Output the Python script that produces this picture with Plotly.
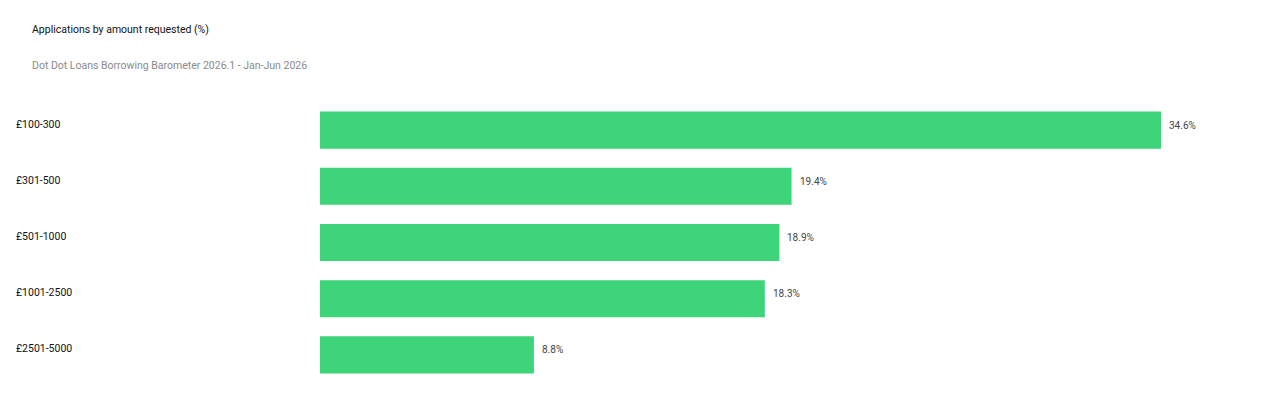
import plotly.graph_objects as go

##========[ DATA ]========##
categories = ["£100-300", "£301-500", "£501-1000", "£1001-2500", "£2501-5000"]
shares = [34.6, 19.4, 18.9, 18.3, 8.8]
value_labels = ["34.6%", "19.4%", "18.9%", "18.3%", "8.8%"]

title_text = "Applications by amount requested (%)"
subtitle_text = "Dot Dot Loans Borrowing Barometer 2026.1 - Jan-Jun 2026"

FONT = "Roboto, Inter, sans-serif"
W, H = 1264, 400          # page adds an 8px body margin
ML, MR, MT, MB = 8, 8, 94, 25
bar_start = 312
px_per_unit = (1153 - bar_start) / 34.6

fig = go.Figure()
fig.add_trace(go.Bar(
    x=shares,
    y=categories,
    orientation="h",
    marker=dict(color="#3dd47a", line=dict(width=0)),
    cliponaxis=False,
    hoverinfo="skip",
))

plot_w = W - ML - MR
plot_h = H - MT - MB
dom_start = (bar_start - ML) / plot_w
x_max = (W - MR - bar_start) / px_per_unit

# category labels, left aligned at the page edge (annotation pads ~2px)
for cat in categories:
    fig.add_annotation(
        x=0, xref="paper", xanchor="left", xshift=-2,
        y=cat, yref="y", yanchor="middle", yshift=6,
        text=cat, showarrow=False,
        font=dict(family=FONT, size=10.5, color="#111111"),
    )

# value labels to the right of each bar
for cat, val, lab in zip(categories, shares, value_labels):
    fig.add_annotation(
        x=val, xref="x", xanchor="left", xshift=6,
        y=cat, yref="y", yanchor="middle", yshift=5,
        text=lab, showarrow=False,
        font=dict(family=FONT, size=10, color="#444444"),
    )

fig.add_annotation(
    x=(22 - ML) / plot_w, xref="paper", xanchor="left",
    y=1 + (MT - 22) / plot_h, yref="paper", yanchor="middle",
    text=title_text, showarrow=False,
    font=dict(family=FONT, size=10.5, color="#111111"),
)
fig.add_annotation(
    x=(22 - ML) / plot_w, xref="paper", xanchor="left",
    y=1 + (MT - 58) / plot_h, yref="paper", yanchor="middle",
    text=subtitle_text, showarrow=False,
    font=dict(family=FONT, size=10.5, color="#8a8a8a"),
)

fig.update_layout(
    width=W, height=H,
    margin=dict(l=ML, r=MR, t=MT, b=MB),
    plot_bgcolor="white", paper_bgcolor="white",
    showlegend=False,
    bargap=0.34,
    xaxis=dict(domain=[dom_start, 1], range=[0, x_max], visible=False, fixedrange=True),
    yaxis=dict(autorange="reversed", showticklabels=False, showgrid=False,
               zeroline=False, showline=False, ticks="", fixedrange=True),
)

fig.write_html("out.html")
